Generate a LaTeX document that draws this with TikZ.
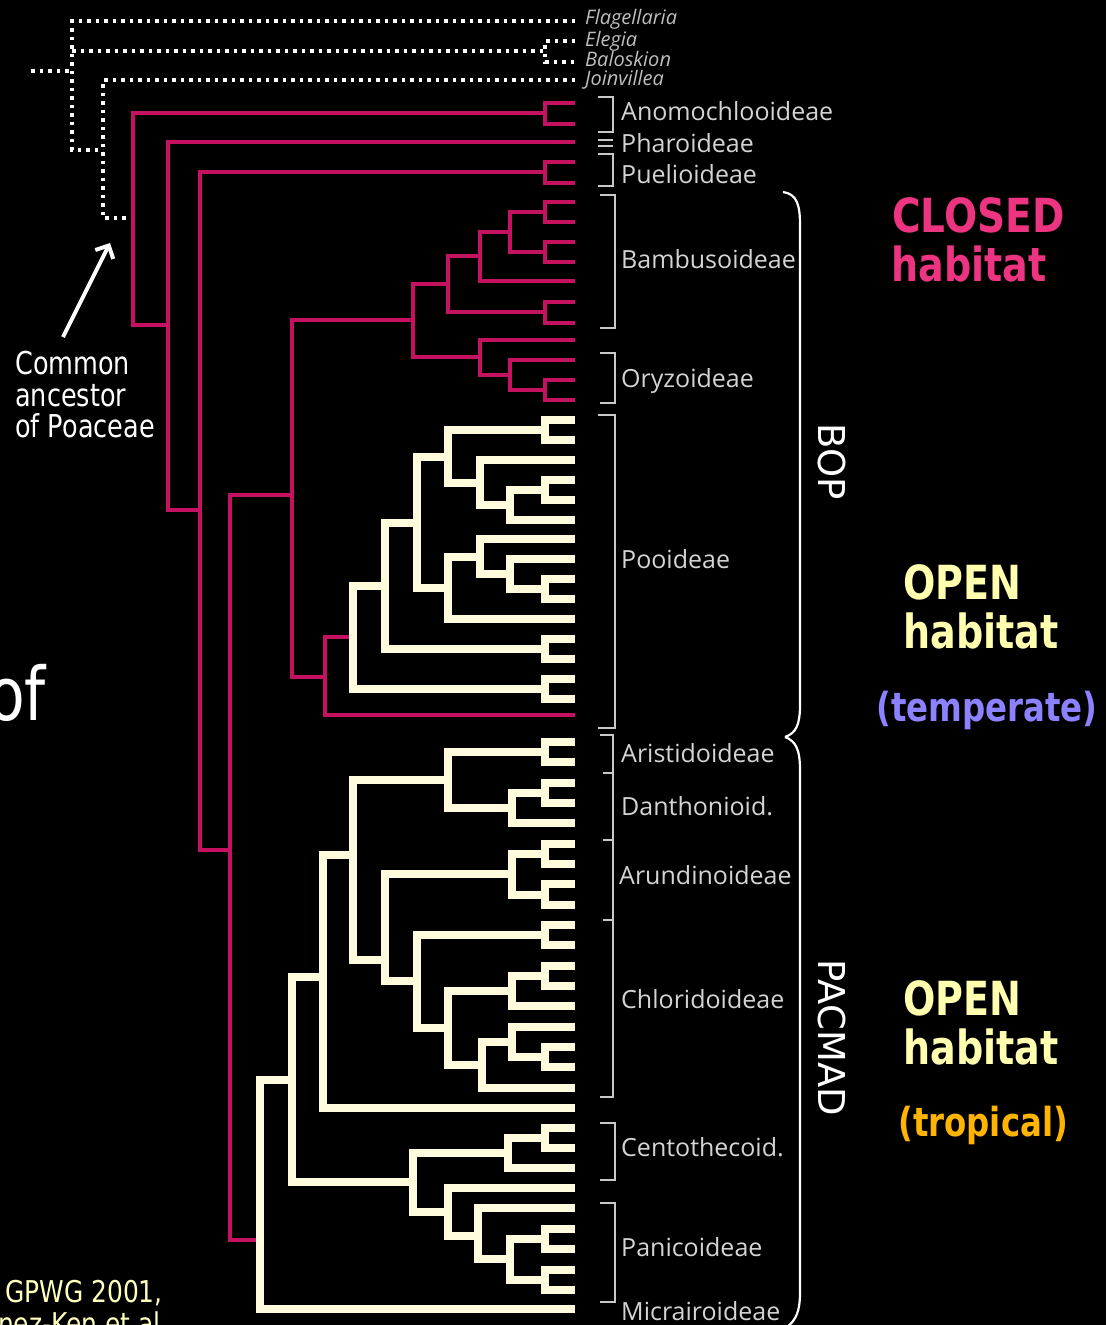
\documentclass[tikz,border=0pt]{standalone}
\usepackage{graphicx}
\usepackage{fontspec}
\setmainfont{DejaVu Sans}
\newfontfamily\treefont{Open Sans}
\usetikzlibrary{arrows.meta}
\definecolor{poamag}{RGB}{196,18,96}
\definecolor{cream}{RGB}{255,251,220}
\definecolor{lblgray}{RGB}{212,212,212}
\definecolor{outgray}{RGB}{190,190,190}
\definecolor{brkgray}{RGB}{200,200,200}
\definecolor{closedpink}{RGB}{236,52,128}
\definecolor{openyellow}{RGB}{255,255,175}
\definecolor{templav}{RGB}{140,130,255}
\definecolor{troporange}{RGB}{255,180,0}
\definecolor{citeyellow}{RGB}{255,255,190}
\newcommand{\sqz}[1]{\scalebox{0.81}[1]{#1}}
\begin{document}
\begin{tikzpicture}[x=1pt,y=-1pt,
 magedge/.style={draw=poamag,line width=4pt},
 creamedge/.style={draw=cream,line width=8pt},
 dotedge/.style={draw=white,line width=3.5pt,dash pattern=on 3.5pt off 5pt},
 brk/.style={draw=brkgray,line width=2pt},
 bigbrace/.style={draw=white,line width=2.2pt},
 taxon/.style={anchor=base west,inner sep=0pt,text=lblgray,font=\treefont\fontsize{25}{30}\selectfont},
 outg/.style={anchor=base west,inner sep=0pt,text=outgray,font=\treefont\itshape\fontsize{20}{24}\selectfont},
 habbig/.style={anchor=base west,inner sep=0pt,font=\bfseries\fontsize{47}{56}\selectfont},
 habsmall/.style={anchor=base west,inner sep=0pt,font=\bfseries\fontsize{40}{48}\selectfont},
 note/.style={anchor=base west,inner sep=0pt,text=white,font=\fontsize{31.5}{38}\selectfont},
 cladename/.style={inner sep=0pt,text=white,rotate=-90,font=\fontsize{37}{44}\selectfont},
]
\fill[black] (0,0) rectangle (1106,1325);
\useasboundingbox (0,0) rectangle (1106,1325);
\clip (0,0) rectangle (1106,1325);

% ---------- outgroups ----------
\coordinate (ogstem) at (31,71);
\coordinate (og) at (72,71);
\coordinate (flag) at (575,21);
\coordinate (restio) at (545,51);
\coordinate (eleg) at (575,41);
\coordinate (balo) at (575,62);
\coordinate (jnode) at (103,150);
\coordinate (joinv) at (575,80);
\coordinate (poa) at (133,218);
\draw[dotedge] (ogstem) -- (og);
\draw[dotedge] (flag) -| (og) |- (jnode);
\draw[dotedge] (og |- restio) -- (restio);
\draw[dotedge] (eleg) -| (restio) |- (balo);
\draw[dotedge] (joinv) -| (jnode) |- (poa);

% ---------- magenta backbone ----------
\coordinate (anomo) at (545,113);
\coordinate (an1) at (575,103);
\coordinate (an2) at (575,124);
\coordinate (nB) at (168,325);
\coordinate (phar) at (575,142);
\coordinate (nC) at (200,510);
\coordinate (puel) at (545,172);
\coordinate (pu1) at (575,162);
\coordinate (pu2) at (575,183);
\coordinate (nD) at (230,850);
\coordinate (nE) at (292,495);
\coordinate (pac) at (260,1240);
\coordinate (nG) at (413,320);
\coordinate (nF) at (325,677);
\coordinate (nH) at (448,284);
\coordinate (nK) at (480,357);
\coordinate (nI) at (480,256);
\coordinate (bam67) at (545,312);
\coordinate (nJ) at (510,232);
\coordinate (b5) at (575,281);
\coordinate (bam12) at (545,212);
\coordinate (bam34) at (545,252);
\coordinate (b1) at (575,202);
\coordinate (b2) at (575,222);
\coordinate (b3) at (575,242);
\coordinate (b4) at (575,262);
\coordinate (b6) at (575,302);
\coordinate (b7) at (575,323);
\coordinate (o1) at (575,340);
\coordinate (nL) at (510,375);
\coordinate (o2) at (575,360);
\coordinate (ory34) at (545,390);
\coordinate (o3) at (575,380);
\coordinate (o4) at (575,400);
\coordinate (poo) at (353,637);
\coordinate (pmag) at (575,715);

\foreach \a/\b in {poa/anomo,poa/nB,anomo/an1,anomo/an2,nB/phar,nB/nC,nC/puel,puel/pu1,puel/pu2,
  nC/nD,nD/nE,nD/pac,nE/nG,nE/nF,nG/nH,nG/nK,nH/nI,nH/bam67,nI/nJ,nI/b5,nJ/bam12,nJ/bam34,
  bam12/b1,bam12/b2,bam34/b3,bam34/b4,bam67/b6,bam67/b7,nK/o1,nK/nL,nL/o2,nL/ory34,ory34/o3,ory34/o4,
  nF/poo,nF/pmag}
  \draw[magedge] (\a) |- (\b);

% ---------- Pooideae (cream) ----------
\coordinate (pp01) at (545,430);
\coordinate (p0) at (575,420);
\coordinate (p1) at (575,440);
\coordinate (p2) at (575,460);
\coordinate (pp34) at (545,490);
\coordinate (p3) at (575,480);
\coordinate (p4) at (575,500);
\coordinate (p5) at (575,520);
\coordinate (p6) at (575,539);
\coordinate (p7) at (575,559);
\coordinate (pp89) at (545,589);
\coordinate (p8) at (575,579);
\coordinate (p9) at (575,599);
\coordinate (p10) at (575,619);
\coordinate (pp1112) at (545,649);
\coordinate (p11) at (575,639);
\coordinate (p12) at (575,659);
\coordinate (pp1314) at (545,689);
\coordinate (p13) at (575,679);
\coordinate (p14) at (575,699);
\coordinate (n510a) at (510,505);
\coordinate (n480a) at (480,483);
\coordinate (P1) at (448,457);
\coordinate (n510b) at (510,574);
\coordinate (n480b) at (480,557);
\coordinate (P2) at (448,588);
\coordinate (n417) at (417,523);
\coordinate (n385) at (385,586);

% ---------- PACMAD (cream) ----------
\coordinate (q0) at (575,742);
\coordinate (q1) at (575,762);
\coordinate (q2) at (575,783);
\coordinate (q3) at (575,803);
\coordinate (q4) at (575,823);
\coordinate (q5) at (575,844);
\coordinate (q6) at (575,864);
\coordinate (q7) at (575,884);
\coordinate (q8) at (575,905);
\coordinate (c0) at (575,925);
\coordinate (c1) at (575,945);
\coordinate (c2) at (575,966);
\coordinate (c3) at (575,986);
\coordinate (c4) at (575,1006);
\coordinate (c5) at (575,1027);
\coordinate (c6) at (575,1047);
\coordinate (c7) at (575,1067);
\coordinate (c8) at (575,1088);
\coordinate (qlong) at (575,1108);
\coordinate (e0) at (575,1128);
\coordinate (e1) at (575,1148);
\coordinate (e2) at (575,1168);
\coordinate (f0) at (575,1188);
\coordinate (f1) at (575,1208);
\coordinate (f2) at (575,1229);
\coordinate (f3) at (575,1249);
\coordinate (f4) at (575,1270);
\coordinate (f5) at (575,1290);
\coordinate (micr) at (575,1309);
\coordinate (arist) at (545,752);
\coordinate (dant12) at (545,793);
\coordinate (dant) at (512,808);
\coordinate (AD) at (448,780);
\coordinate (a12) at (545,854);
\coordinate (a34) at (545,895);
\coordinate (arund) at (512,874);
\coordinate (c01) at (545,935);
\coordinate (c23) at (545,976);
\coordinate (n512c) at (512,991);
\coordinate (c67) at (545,1057);
\coordinate (n512d) at (512,1042);
\coordinate (n482c) at (482,1065);
\coordinate (n448c) at (448,1028);
\coordinate (chl) at (417,981);
\coordinate (n385p) at (385,960);
\coordinate (n353) at (353,855);
\coordinate (n323) at (323,977);
\coordinate (cent12) at (545,1138);
\coordinate (cent) at (508,1153);
\coordinate (pa12) at (545,1239);
\coordinate (pa34) at (545,1280);
\coordinate (n510p) at (510,1259);
\coordinate (n478) at (478,1236);
\coordinate (pan) at (448,1212);
\coordinate (n413) at (413,1182);
\coordinate (n292) at (292,1080);

\foreach \a/\b in {poo/n385,poo/pp1314,n385/n417,n385/pp1112,n417/P1,n417/P2,P1/pp01,P1/n480a,
  n480a/p2,n480a/n510a,n510a/pp34,n510a/p5,P2/n480b,P2/p10,n480b/p6,n480b/n510b,n510b/p7,n510b/pp89,
  pp01/p0,pp01/p1,pp34/p3,pp34/p4,pp89/p8,pp89/p9,pp1112/p11,pp1112/p12,pp1314/p13,pp1314/p14,
  pac/n292,pac/micr,n292/n323,n292/n413,n323/n353,n323/qlong,n353/AD,n353/n385p,
  AD/arist,AD/dant,arist/q0,arist/q1,dant/dant12,dant/q4,dant12/q2,dant12/q3,
  n385p/arund,n385p/chl,arund/a12,arund/a34,a12/q5,a12/q6,a34/q7,a34/q8,
  chl/c01,chl/n448c,c01/c0,c01/c1,n448c/n512c,n448c/n482c,n512c/c23,n512c/c4,c23/c2,c23/c3,
  n482c/n512d,n482c/c8,n512d/c5,n512d/c67,c67/c6,c67/c7,
  n413/cent,n413/pan,cent/cent12,cent/e2,cent12/e0,cent12/e1,
  pan/f0,pan/n478,n478/f1,n478/n510p,n510p/pa12,n510p/pa34,pa12/f2,pa12/f3,pa34/f4,pa34/f5}
  \draw[creamedge] (\a) |- (\b);

% ---------- taxon brackets ----------
\draw[brk] (598,97) -| (613,132) -- (598,132);
\draw[brk] (598,139.5) -- (613,139.5);
\draw[brk] (598,145.5) -- (613,145.5);
\draw[brk] (598,154) -| (613,186) -- (598,186);
\draw[brk] (600,195) -| (615,328) -- (600,328);
\draw[brk] (600,353) -| (615,403) -- (600,403);
\draw[brk] (598,415) -| (615,728) -- (598,728);
\draw[brk] (600,735) -| (613,1097) -- (600,1097);
\draw[brk] (603,773) -- (613,773);
\draw[brk] (603,840) -- (613,840);
\draw[brk] (603,920) -- (613,920);
\draw[brk] (600,1123) -| (615,1180) -- (600,1180);
\draw[brk] (600,1203) -| (615,1302) -- (600,1302);

% ---------- taxon labels ----------
\node[outg] (lflag) at (585,24) {Flagellaria};
\node[outg] (leleg) at (585,46) {Elegia};
\node[outg] (lbalo) at (585,66) {Baloskion};
\node[outg] (ljoin) at (585,85) {Joinvillea};
\node[taxon] (lanom) at (621,120) {Anomochlooideae};
\node[taxon] (lphar) at (621,152) {Pharoideae};
\node[taxon] (lpuel) at (621,183) {Puelioideae};
\node[taxon] (lbamb) at (621,268) {Bambusoideae};
\node[taxon] (lorzy) at (621,387) {Oryzoideae};
\node[taxon] (lpooi) at (621,568) {Pooideae};
\node[taxon] (laris) at (621,762) {Aristidoideae};
\node[taxon] (ldant) at (621,815) {Danthonioid.};
\node[taxon] (larun) at (619,884) {Arundinoideae};
\node[taxon] (lchlo) at (621,1008) {Chloridoideae};
\node[taxon] (lcent) at (621,1156) {Centothecoid.};
\node[taxon] (lpani) at (621,1256) {Panicoideae};
\node[taxon] (lmicr) at (621,1320) {Micrairoideae};

% ---------- BOP / PACMAD braces ----------
\draw[bigbrace] (783,192) .. controls (797,194) and (800,205) .. (800,225) -- (800,705)
  .. controls (800,725) and (796,733) .. (785,737);
\draw[bigbrace] (785,737) .. controls (796,741) and (800,750) .. (800,770) -- (800,1292)
  .. controls (800,1312) and (796,1320) .. (786,1328);
\node[cladename] (bop) at (832,462) {BOP};
\node[cladename] (pacmad) at (832,1038) {PACMAD};

% ---------- habitat notes ----------
\node[habbig,text=closedpink] (closed1) at (892,232) {\scalebox{0.83}[1]{CLOSED}};
\node[habbig,text=closedpink] (closed2) at (891,281) {\sqz{habitat}};
\node[habbig,text=openyellow] (opent1) at (903,599) {\sqz{OPEN}};
\node[habbig,text=openyellow] (opent2) at (903,648) {\sqz{habitat}};
\node[habsmall,text=templav] (temp) at (876,721) {\sqz{(temperate)}};
\node[habbig,text=openyellow] (openp1) at (903,1015) {\sqz{OPEN}};
\node[habbig,text=openyellow] (openp2) at (903,1064) {\sqz{habitat}};
\node[habsmall,text=troporange] (trop) at (898,1136) {\sqz{(tropical)}};

% ---------- common ancestor ----------
\node[note] (canc1) at (15,374) {\sqz{Common}};
\node[note] (canc2) at (15,406) {\sqz{ancestor}};
\node[note] (canc3) at (15,437) {\sqz{of Poaceae}};
\coordinate (arrtail) at (63,337);
\coordinate (arrhead) at (110,243);
\draw[white,line width=4pt,-{Straight Barb[length=10pt,width=20pt]}] (arrtail) -- (arrhead);

% ---------- cut-off slide text ----------
\node[anchor=base west,inner sep=0pt,text=white,font=\fontsize{74}{80}\selectfont] (ofword) at (-12,720) {\sqz{of}};
\node[anchor=base west,inner sep=0pt,text=citeyellow,font=\fontsize{30}{36}\selectfont] (cite1) at (5,1302) {\scalebox{0.83}[1]{GPWG 2001,}};
\node[anchor=base west,inner sep=0pt,text=citeyellow,font=\fontsize{30}{36}\selectfont] (cite2) at (-2,1334) {\scalebox{0.83}[1]{nez-Ken et al.}};
\end{tikzpicture}
\end{document}
